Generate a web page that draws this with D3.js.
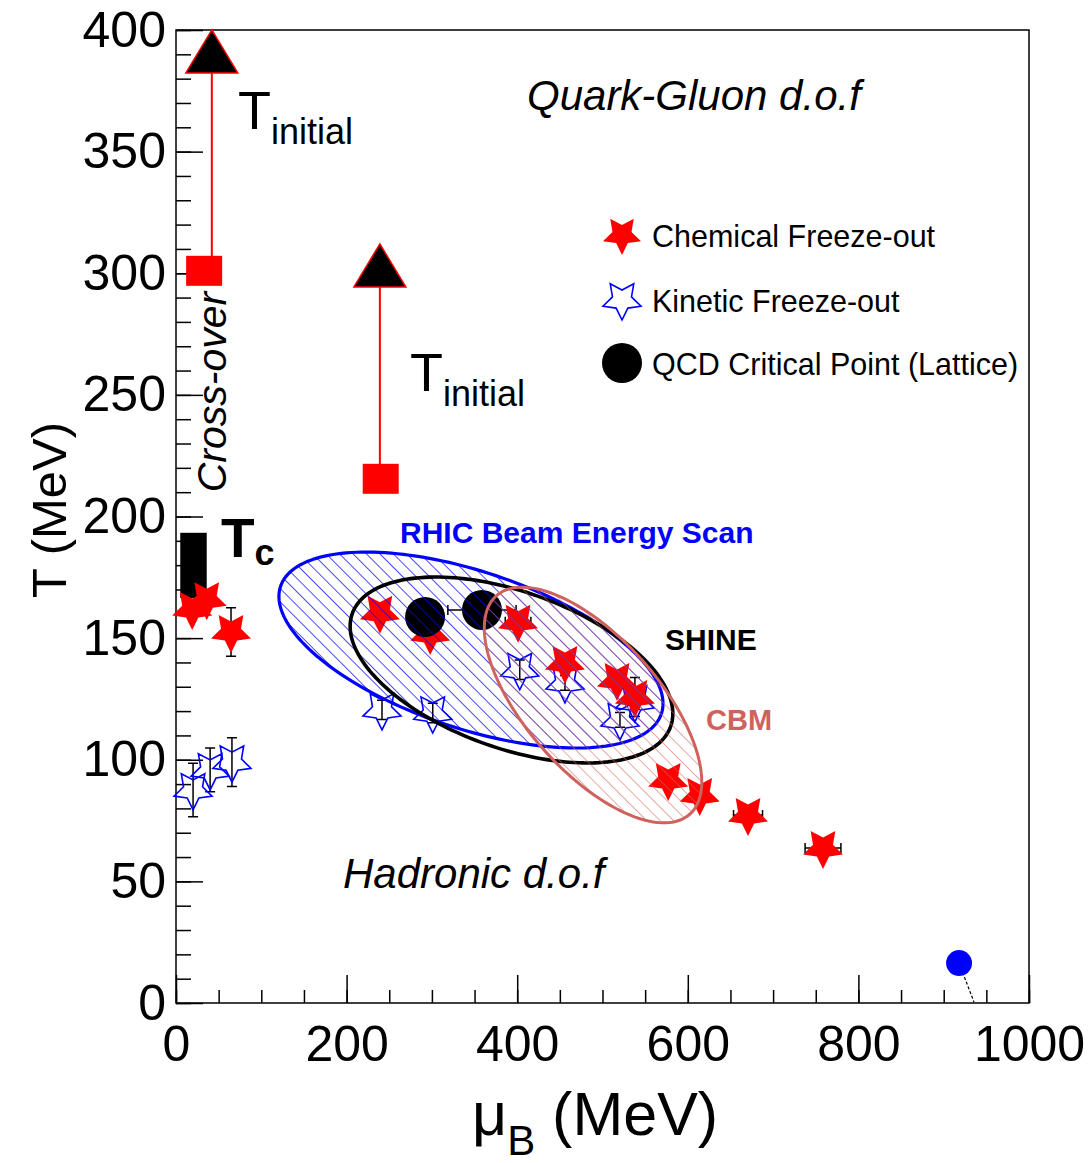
<!DOCTYPE html>
<html>
<head>
<meta charset="utf-8">
<script src="https://cdn.jsdelivr.net/npm/d3@7"></script>
<style>
  body { margin: 0; background: #fff; }
  text { font-family: "Liberation Sans", Arial, Helvetica, sans-serif; }
</style>
</head>
<body>
<div class="canvas"></div>
<script>
// ---- data ----
const chemMu    = [19, 36, 64.5, 239, 298, 401, 456, 517, 538, 577, 614, 670.6, 758.5]
const chemT     = [162, 166, 152.5, 160.4, 151.7, 156.7, 139.8, 132.8, 125.8, 91.7, 85.5, 77.3, 63.7]
const chemMuErr = [0, 0, 0, 6, 0, 15, 0, 0, 0, 0, 0, 17, 21]
const chemTErr  = [0, 3, 10, 3, 0, 3, 3, 0, 8, 0, 0, 3, 3]

const kinMu   = [20, 40, 65.6, 241.5, 301, 403, 456, 520.5, 538]
const kinT    = [87.6, 95.8, 99, 120.5, 119.2, 137, 131.6, 116.4, 123.8]
const kinTErr = [11, 9, 10, 4, 4, 4, 3, 3, 3]

const cpMu    = [292, 358.7]
const cpT     = [158.7, 161.6]
const cpMuErr = [0, 40]

const tinitMu  = [42, 239]
const tinitT   = [391, 303]
const tstartMu = [33, 240]
const tstartT  = [301, 215.5]

const tcMu = [5, 36]
const tcT  = [166.5, 193.3]

const nucMu = [918, 935.5]
const nucT  = [16.4, 0.4]

const ellipseNames = ['RHIC', 'SHINE', 'CBM']
const ellipseMu    = [345.8, 393.3, 488.9]
const ellipseT     = [145.1, 136.9, 122.5]
const ellipseA     = [235.4, 198, 171]
const ellipseB     = [92, 91.9, 78]
const ellipseTilt  = [18.5, 19.5, 48.5]

const xTicks = [0, 200, 400, 600, 800, 1000]
const yTicks = [0, 50, 100, 150, 200, 250, 300, 350, 400]

// ---- setup ----
const width = 1092, height = 1163
const cbmColour = '#d0625e'

const svg = d3.select('.canvas')
    .append('svg')
    .attr('width', width)
    .attr('height', height)

const x = d3.scaleLinear().domain([0, 1000]).range([176, 1029])
const y = d3.scaleLinear().domain([0, 400]).range([1003, 30])

const defs = svg.append('defs')
const hatch = (id, colour, w) => {
  const p = defs.append('pattern')
    .attr('id', id)
    .attr('patternUnits', 'userSpaceOnUse')
    .attr('width', 9.5).attr('height', 10)
    .attr('patternTransform', 'rotate(-45)')
  p.append('line')
    .attr('x1', 0).attr('y1', -1).attr('x2', 0).attr('y2', 11)
    .attr('stroke', colour).attr('stroke-width', w)
}
hatch('hatchBlue', '#0000ff', 1.4)
hatch('hatchRed', cbmColour, 1.1)

// frame
svg.append('rect')
  .attr('x', x(0)).attr('y', y(400))
  .attr('width', x(1000) - x(0)).attr('height', y(0) - y(400))
  .attr('fill', 'none').attr('stroke', '#000').attr('stroke-width', 1.5)

// axes (ticks inside frame, ROOT style)
const yMinor = svg.append('g').attr('transform', `translate(${x(0)},0)`)
  .call(d3.axisLeft(y).tickValues(d3.range(0, 401, 10)).tickSize(-15).tickFormat(''))
const yMajor = svg.append('g').attr('transform', `translate(${x(0)},0)`)
  .call(d3.axisLeft(y).tickValues(yTicks).tickSize(-27).tickPadding(10).tickFormat(d3.format('d')))
const xMinor = svg.append('g').attr('transform', `translate(0,${y(0)})`)
  .call(d3.axisBottom(x).tickValues(d3.range(0, 1001, 50)).tickSize(-13).tickFormat(''))
const xMajor = svg.append('g').attr('transform', `translate(0,${y(0)})`)
  .call(d3.axisBottom(x).tickValues(xTicks).tickSize(-28).tickPadding(22).tickFormat(d3.format('d')))

svg.selectAll('.domain').remove()
svg.selectAll('.tick line').attr('stroke', '#000').attr('stroke-width', 1.5)
svg.selectAll('.tick text').attr('fill', '#000')
  .style('font-family', '"Liberation Sans", Arial, sans-serif')
  .style('font-size', '50px')

// axis titles
svg.append('text')
  .attr('transform', 'translate(66,510) rotate(-90)')
  .attr('text-anchor', 'middle')
  .style('font-size', '49px')
  .text('T (MeV)')

const xt = svg.append('text')
  .attr('x', 472).attr('y', 1135)
  .style('font-size', '61px')
xt.append('tspan').text('μ')
xt.append('tspan').attr('dy', 20).style('font-size', '42px').text('B')
xt.append('tspan').attr('dy', -20).text(' (MeV)')

// ---- T initial arrows ----
tinitMu.forEach((m, i) => {
  svg.append('line')
    .attr('x1', x(m)).attr('x2', x(m))
    .attr('y1', y(tstartT[i])).attr('y2', y(tinitT[i]))
    .attr('stroke', '#ff0000').attr('stroke-width', 2)
})
svg.selectAll('.tstart').data(tstartMu).enter().append('rect')
  .attr('class', 'tstart')
  .attr('x', d => x(d) - 18).attr('y', (d, i) => y(tstartT[i]) - 15)
  .attr('width', 36).attr('height', 30)
  .attr('fill', '#ff0000')
svg.selectAll('.tinit').data(tinitMu).enter().append('path')
  .attr('class', 'tinit')
  .attr('transform', (d, i) => `translate(${x(d)},${y(tinitT[i])})`)
  .attr('d', 'M0,-22L26,21L-26,21Z')
  .attr('fill', '#000').attr('stroke', '#ff0000').attr('stroke-width', 1.5)

// Tc band
svg.append('rect')
  .attr('x', x(tcMu[0])).attr('y', y(tcT[1]))
  .attr('width', x(tcMu[1]) - x(tcMu[0])).attr('height', y(tcT[0]) - y(tcT[1]))
  .attr('fill', '#000')

// ---- markers ----
const starPath = (R, r) => {
  const pts = d3.range(10).map(i => {
    const a = Math.PI / 2 + i * Math.PI / 5
    const rad = i % 2 ? r : R
    return [rad * Math.cos(a), rad * Math.sin(a)]
  })
  return 'M' + pts.join('L') + 'Z'
}
const errBar = (g, px, py, dx, dy) => {
  const c = 5
  if (dy > 0) {
    g.append('path').attr('d', `M${px},${py - dy}V${py + dy}M${px - c},${py - dy}H${px + c}M${px - c},${py + dy}H${px + c}`)
      .attr('stroke', '#000').attr('stroke-width', 1.5).attr('fill', 'none')
  }
  if (dx > 0) {
    g.append('path').attr('d', `M${px - dx},${py}H${px + dx}M${px - dx},${py - c}V${py + c}M${px + dx},${py - c}V${py + c}`)
      .attr('stroke', '#000').attr('stroke-width', 1.5).attr('fill', 'none')
  }
}

const errG = svg.append('g')
chemMu.forEach((m, i) => errBar(errG, x(m), y(chemT[i]), x(chemMuErr[i]) - x(0), y(0) - y(chemTErr[i])))
kinMu.forEach((m, i) => errBar(errG, x(m), y(kinT[i]), 0, y(0) - y(kinTErr[i])))
cpMu.forEach((m, i) => errBar(errG, x(m), y(cpT[i]), x(cpMuErr[i]) - x(0), 0))

svg.selectAll('.kin').data(kinMu).enter().append('path')
  .attr('class', 'kin')
  .attr('transform', (d, i) => `translate(${x(d)},${y(kinT[i])})`)
  .attr('d', starPath(20, 10))
  .attr('fill', 'none').attr('stroke', '#0000ff').attr('stroke-width', 1.6)

svg.selectAll('.chem').data(chemMu).enter().append('path')
  .attr('class', 'chem')
  .attr('transform', (d, i) => `translate(${x(d)},${y(chemT[i])})`)
  .attr('d', starPath(21, 10.5))
  .attr('fill', '#ff0000')

svg.selectAll('.cp').data(cpMu).enter().append('circle')
  .attr('class', 'cp')
  .attr('cx', d => x(d)).attr('cy', (d, i) => y(cpT[i]))
  .attr('r', 20).attr('fill', '#000')

// nuclear matter point
svg.append('line')
  .attr('x1', x(nucMu[0])).attr('y1', y(nucT[0]))
  .attr('x2', x(nucMu[1])).attr('y2', y(nucT[1]))
  .attr('stroke', '#000').attr('stroke-width', 1.2).attr('stroke-dasharray', '3,2')
svg.append('circle')
  .attr('cx', x(nucMu[0])).attr('cy', y(nucT[0]))
  .attr('r', 13).attr('fill', '#0000ff')

// ---- experiment ellipses ----
const ellipsePath = (cx, cy, a, b, deg) => {
  const th = deg * Math.PI / 180
  const pts = d3.range(0, 360, 2).map(t => {
    const u = t * Math.PI / 180
    const ex = a * Math.cos(u), ey = b * Math.sin(u)
    return [cx + ex * Math.cos(th) - ey * Math.sin(th), cy + ex * Math.sin(th) + ey * Math.cos(th)]
  })
  return d3.line()(pts) + 'Z'
}
const ellipseFill = ['url(#hatchBlue)', 'none', 'url(#hatchRed)']
const ellipseStroke = ['#0000ff', '#000', cbmColour]
const ellipseWidth = [3.2, 3.6, 3]
ellipseNames.forEach((n, i) => {
  svg.append('path')
    .attr('class', 'ellipse-' + n)
    .attr('d', ellipsePath(x(ellipseMu[i]), y(ellipseT[i]),
      x(ellipseA[i]) - x(0), x(ellipseB[i]) - x(0), ellipseTilt[i]))
    .attr('fill', ellipseFill[i])
    .attr('stroke', ellipseStroke[i])
    .attr('stroke-width', ellipseWidth[i])
})

// ---- labels ----
const tinitLabel = (px, py) => {
  const t = svg.append('text').attr('x', px).attr('y', py).style('font-size', '54px')
  t.append('tspan').text('T')
  t.append('tspan').attr('dy', 15).style('font-size', '36px').text('initial')
}
tinitLabel(238, 129)
tinitLabel(410, 391)

const tc = svg.append('text').attr('x', 221).attr('y', 557)
  .style('font-size', '55px').style('font-weight', 'bold')
tc.append('tspan').text('T')
tc.append('tspan').attr('dy', 8).style('font-size', '36px').text('c')

svg.append('text')
  .attr('transform', 'translate(226,392) rotate(-90)')
  .attr('text-anchor', 'middle')
  .style('font-size', '41px').style('font-style', 'italic')
  .text('Cross-over')

svg.append('text').attr('x', 527).attr('y', 110)
  .style('font-size', '42px').style('font-style', 'italic')
  .text('Quark-Gluon d.o.f')
svg.append('text').attr('x', 343).attr('y', 888)
  .style('font-size', '42px').style('font-style', 'italic')
  .text('Hadronic d.o.f')

svg.append('text').attr('x', 400).attr('y', 543)
  .style('font-size', '30px').style('font-weight', 'bold').attr('fill', '#0000ff')
  .text('RHIC Beam Energy Scan')
svg.append('text').attr('x', 665).attr('y', 650)
  .style('font-size', '30px').style('font-weight', 'bold').attr('fill', '#000')
  .text('SHINE')
svg.append('text').attr('x', 706).attr('y', 730)
  .style('font-size', '29px').style('font-weight', 'bold').attr('fill', cbmColour)
  .text('CBM')

// ---- legend ----
const legend = svg.append('g')
legend.append('path').attr('transform', 'translate(622,235)')
  .attr('d', starPath(20, 10)).attr('fill', '#ff0000')
legend.append('path').attr('transform', 'translate(622,300)')
  .attr('d', starPath(20, 10)).attr('fill', 'none').attr('stroke', '#0000ff').attr('stroke-width', 1.6)
legend.append('circle').attr('cx', 622).attr('cy', 363).attr('r', 20).attr('fill', '#000')
const legendText = ['Chemical Freeze-out', 'Kinetic Freeze-out', 'QCD Critical Point (Lattice)']
const legendY = [247, 312, 375]
legendText.forEach((t, i) => {
  legend.append('text').attr('x', 652).attr('y', legendY[i])
    .style('font-size', '30.5px').text(t)
})
</script>
</body>
</html>
